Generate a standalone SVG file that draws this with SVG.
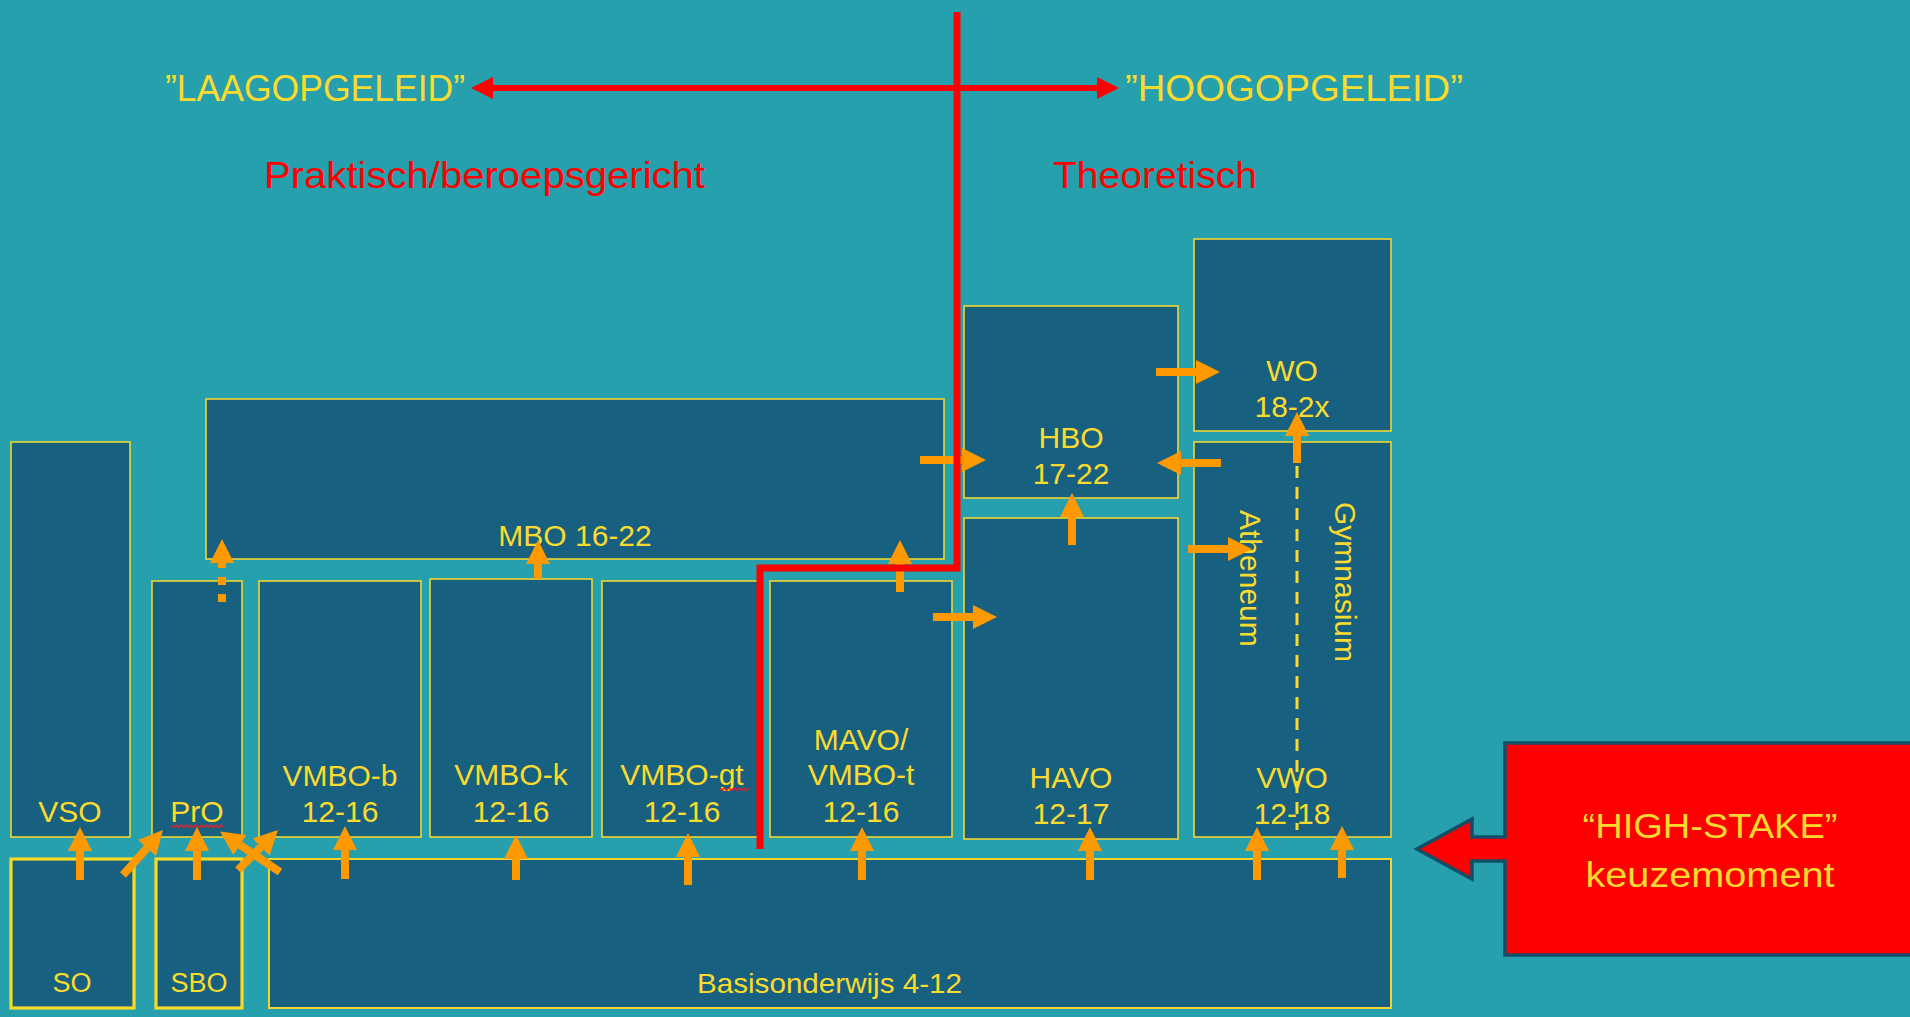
<svg xmlns="http://www.w3.org/2000/svg" width="1910" height="1017" viewBox="0 0 1910 1017">
<defs>
<style>
.box{fill:#17607F;stroke:#F2D62E;stroke-width:1.6}
.boxb{fill:#17607F;stroke:#F7DA26;stroke-width:3.2}
.lbl{font-family:'Liberation Sans',Arial,sans-serif;font-size:30px;fill:#FADB2D;text-anchor:middle}
.sm{font-size:27px}
.top{font-family:'Liberation Sans',Arial,sans-serif;font-size:36px}
.oa{stroke:#FF9900;stroke-width:8;fill:none;marker-end:url(#oh)}
.red{stroke:#FF0000;fill:none}
.sq{stroke:#E0202A;stroke-width:1.3;fill:none}
</style>
<marker id="oh" markerUnits="userSpaceOnUse" markerWidth="24" markerHeight="24" viewBox="0 0 24 24" refX="0" refY="12" orient="auto"><path d="M0,0 L24,12 L0,24 Z" fill="#FF9900"/></marker>
<marker id="rh" markerUnits="userSpaceOnUse" markerWidth="22" markerHeight="22" viewBox="0 0 22 22" refX="0" refY="11" orient="auto-start-reverse"><path d="M0,0 L22,11 L0,22 Z" fill="#FF0000"/></marker>
</defs>
<rect width="1910" height="1017" fill="#26A0AD"/>

<g id="titles">
<text class="top" x="165" y="101" fill="#FADB2D" textLength="300" lengthAdjust="spacingAndGlyphs">”LAAGOPGELEID”</text>
<text class="top" x="1125" y="101" fill="#FADB2D" textLength="338" lengthAdjust="spacingAndGlyphs">”HOOGOPGELEID”</text>
<text class="top" x="264" y="188" fill="#FF0000" textLength="441" lengthAdjust="spacingAndGlyphs">Praktisch/beroepsgericht</text>
<text class="top" x="1053" y="188" fill="#FF0000" textLength="204" lengthAdjust="spacingAndGlyphs">Theoretisch</text>
</g>

<g id="MBO"><rect class="box" x="206" y="399" width="738" height="160"/><text class="lbl" x="575" y="546">MBO 16-22</text></g>
<g id="HBO"><rect class="box" x="964" y="306" width="214" height="192"/><text class="lbl" x="1071" y="448">HBO</text><text class="lbl" x="1071" y="484">17-22</text></g>
<g id="WO"><rect class="box" x="1194" y="239" width="197" height="192"/><text class="lbl" x="1292" y="381">WO</text><text class="lbl" x="1292" y="417">18-2x</text></g>
<g id="VSO"><rect class="box" x="11" y="442" width="119" height="395"/><text class="lbl" x="70" y="822">VSO</text></g>
<g id="PrO"><rect class="box" x="152" y="581" width="90" height="256"/><text class="lbl" x="197" y="822">PrO</text><path class="sq" d="M171,825 l2.5,2.5 l2.5,-2.5 l2.5,2.5 l2.5,-2.5 l2.5,2.5 l2.5,-2.5 l2.5,2.5 l2.5,-2.5 l2.5,2.5 l2.5,-2.5 l2.5,2.5 l2.5,-2.5 l2.5,2.5 l2.5,-2.5 l2.5,2.5 l2.5,-2.5 l2.5,2.5 l2.5,-2.5 l2.5,2.5 l2.5,-2.5 l2.5,2.5"/></g>
<g id="VMBO-b"><rect class="box" x="259" y="581" width="162" height="256"/><text class="lbl" x="340" y="786">VMBO-b</text><text class="lbl" x="340" y="822">12-16</text></g>
<g id="VMBO-k"><rect class="box" x="430" y="579" width="162" height="258"/><text class="lbl" x="511" y="785">VMBO-k</text><text class="lbl" x="511" y="822">12-16</text></g>
<g id="VMBO-gt"><rect class="box" x="602" y="581" width="157" height="256"/><text class="lbl" x="682" y="785">VMBO-gt</text><text class="lbl" x="682" y="822">12-16</text><path class="sq" d="M719,788 l2.5,2.5 l2.5,-2.5 l2.5,2.5 l2.5,-2.5 l2.5,2.5 l2.5,-2.5 l2.5,2.5 l2.5,-2.5 l2.5,2.5 l2.5,-2.5 l2.5,2.5 l2.5,-2.5"/></g>
<g id="MAVO"><rect class="box" x="770" y="581" width="182" height="256"/><text class="lbl" x="861" y="750">MAVO/</text><text class="lbl" x="861" y="785">VMBO-t</text><text class="lbl" x="861" y="822">12-16</text></g>
<g id="HAVO"><rect class="box" x="964" y="518" width="214" height="321"/><text class="lbl" x="1071" y="788">HAVO</text><text class="lbl" x="1071" y="824">12-17</text></g>
<g id="VWO"><rect class="box" x="1194" y="442" width="197" height="395"/><text class="lbl" x="1292" y="788">VWO</text><text class="lbl" x="1292" y="824">12-18</text>
<text class="lbl" transform="translate(1240,510) rotate(90)" style="text-anchor:start">Atheneum</text>
<text class="lbl" transform="translate(1335,502) rotate(90)" style="text-anchor:start">Gymnasium</text></g>
<g id="SO"><rect class="boxb" x="11" y="859" width="123" height="149"/><text class="lbl sm" x="72" y="992">SO</text></g>
<g id="SBO"><rect class="boxb" x="156" y="859" width="86" height="149"/><text class="lbl sm" x="199" y="992">SBO</text></g>
<g id="Basisonderwijs"><rect class="box" x="269" y="859" width="1122" height="149" style="stroke-width:2"/><text class="lbl" x="697" y="993" style="text-anchor:start;font-size:28px" textLength="265" lengthAdjust="spacingAndGlyphs">Basisonderwijs 4-12</text></g>

<g id="callout">
<path d="M1417,849 L1472,819 L1472,837 L1505,837 L1505,743 L1914,743 L1914,955 L1505,955 L1505,861 L1472,861 L1472,879 Z" fill="#FF0000" stroke="#124E67" stroke-width="3.5" stroke-linejoin="miter"/>
<text class="lbl" x="1710" y="838" style="font-size:35px" textLength="255" lengthAdjust="spacingAndGlyphs">“HIGH-STAKE”</text>
<text class="lbl" x="1710" y="887" style="font-size:35px" textLength="249" lengthAdjust="spacingAndGlyphs">keuzemoment</text>
</g>

<g id="connectors">
<line class="oa" x1="80" y1="880" x2="80" y2="851"/>
<line class="oa" x1="123" y1="875" x2="147" y2="848"/>
<line class="oa" x1="197" y1="880" x2="197" y2="851"/>
<line class="oa" x1="280" y1="872" x2="240" y2="845"/>
<line class="oa" x1="238" y1="870" x2="261" y2="847"/>
<line class="oa" x1="345" y1="879" x2="345" y2="850"/>
<line class="oa" x1="516" y1="880" x2="516" y2="859"/>
<line class="oa" x1="688" y1="885" x2="688" y2="857"/>
<line class="oa" x1="862" y1="880" x2="862" y2="851"/>
<line class="oa" x1="1090" y1="880" x2="1090" y2="851"/>
<line class="oa" x1="1257" y1="880" x2="1257" y2="851"/>
<line class="oa" x1="1342" y1="878" x2="1342" y2="850"/>
<line class="oa" x1="222" y1="602" x2="222" y2="563" stroke-dasharray="8 9"/>
<line class="oa" x1="538" y1="579" x2="538" y2="564"/>
<line class="oa" x1="900" y1="592" x2="900" y2="564"/>
<line class="oa" x1="933" y1="617" x2="973" y2="617"/>
<line class="oa" x1="920" y1="460" x2="962" y2="460"/>
<line class="oa" x1="1072" y1="545" x2="1072" y2="517"/>
<line class="oa" x1="1156" y1="372" x2="1196" y2="372"/>
<line class="oa" x1="1221" y1="463" x2="1181" y2="463"/>
<line class="oa" x1="1297" y1="463" x2="1297" y2="436"/>
<line class="oa" x1="1188" y1="549" x2="1228" y2="549"/>
<line x1="1297" y1="466" x2="1297" y2="830" stroke="#FADB2D" stroke-width="3" stroke-dasharray="12 9"/>
<path class="red" d="M957,12 V568 H760 V849" stroke-width="7"/>
<line class="red" x1="493" y1="88" x2="1097" y2="88" stroke-width="6" marker-start="url(#rh)" marker-end="url(#rh)"/>
</g>
</svg>
